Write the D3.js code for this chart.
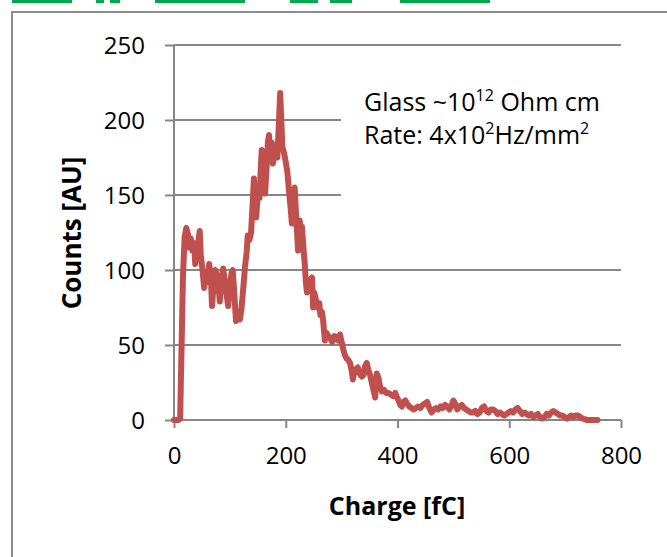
<!DOCTYPE html>
<html>
<head>
<meta charset="utf-8">
<script src="https://cdn.jsdelivr.net/npm/d3@7"></script>
<style>
  html, body { margin: 0; padding: 0; background: #fff; }
  svg { display: block; }
  text { font-family: "Open Sans", "Noto Sans", sans-serif; fill: #000; }
</style>
</head>
<body>
<svg id="chart" width="667" height="557"></svg>
<script>
// ---- data ----
const charge = [0,4,8,11,16,19,22,25,27,30,33,36,38,41,44,46,48,51,54,57,60,63,66,68,71,74,77,80,82,85,88,91,94,97,100,103,105,108,111,114,118,121,124,127,130,132,135,138,141,143,145,147,150,153,155,157,160,163,166,168,170,172,175,177,180,182,185,188,190,192,194,197,200,203,206,209,211,214,216,218,220,222,225,227,229,231,234,236,238,241,244,247,249,251,254,257,260,262,265,267,270,273,276,279,283,287,290,294,297,300,303,306,309,312,315,318,320,323,326,329,332,336,339,342,345,348,351,354,357,360,363,366,369,372,376,380,384,388,392,396,399,402,405,408,411,414,417,421,425,429,433,437,441,445,449,453,457,461,465,469,473,477,481,485,489,493,497,500,503,507,511,515,519,523,527,531,535,539,543,547,551,555,559,563,567,571,575,579,583,587,591,595,599,603,607,611,615,619,623,627,631,635,639,643,647,651,655,659,663,667,671,675,679,683,687,691,695,699,703,707,711,715,719,723,727,731,735,740,745,750,755,758];
const counts = [0,0,0,1,95,122,128,124,115,121,113,118,104,112,120,126,110,100,88,97,92,104,95,76,90,100,96,88,79,95,101,92,84,76,90,98,100,84,66,70,67,75,88,102,112,123,120,125,146,161,140,135,150,148,165,180,162,151,170,185,190,178,185,171,178,183,175,200,218,200,182,178,172,165,152,140,131,150,155,140,127,113,133,125,129,118,104,92,85,88,93,95,75,85,80,75,78,70,72,66,53,58,56,55,52,56,55,53,57,52,47,43,41,40,38,33,27,32,34,35,31,29,30,36,38,33,30,25,20,15,31,28,22,19,20,18,18,17,16,18,15,13,10,9,12,13,11,9,8,7,8,9,8,10,11,12,8,5,7,8,7,9,8,10,9,7,10,13,11,7,9,10,8,7,6,5,5,6,4,5,8,9,6,5,7,7,6,4,5,4,3,4,5,6,5,7,8,6,4,5,4,3,4,2,3,4,2,1,2,4,3,5,6,5,4,3,3,2,1,2,3,2,3,3,2,1,0.5,0,0,0,0,0];
const xTicks = [0, 200, 400, 600, 800];
const yTicks = [0, 50, 100, 150, 200, 250];
const xTitle = "Charge [fC]";
const yTitle = "Counts [AU]";

// ---- layout ----
const svg = d3.select("#chart");
const pLeft = 174, pRight = 621, pTop = 45, pBottom = 420;
const x = d3.scaleLinear().domain([0, 800]).range([pLeft, pRight]);
const y = d3.scaleLinear().domain([0, 250]).range([pBottom, pTop]);
const gridColor = "#868686";

// top cut-off green title fragments
const greenSegs = [[12,72],[96,104],[110,120],[155,245],[290,318],[330,352],[400,490]];
svg.selectAll("rect.green").data(greenSegs).enter().append("rect")
  .attr("x", d => d[0]).attr("y", 0).attr("width", d => d[1]-d[0]).attr("height", 3)
  .attr("fill", "#00a650");

// outer frame
svg.append("path").attr("d", "M12,557 L12,12 L667,12")
  .attr("fill", "none").attr("stroke", "#8c8c8c").attr("stroke-width", 2);

// horizontal gridlines + y ticks
const yAxis = d3.axisLeft(y).tickValues(yTicks).tickSize(9).tickPadding(20).tickFormat(d3.format("d"));
const gy = svg.append("g").attr("transform", `translate(${pLeft},0)`).call(yAxis);
gy.select(".domain").remove();
gy.selectAll(".tick line").attr("stroke", gridColor).attr("stroke-width", 2);
gy.selectAll(".tick text").attr("font-size", 24).attr("fill", "#000").attr("dy", "0.35em");
svg.append("g").selectAll("line").data(yTicks.filter(v => v > 0)).enter().append("line")
  .attr("x1", pLeft).attr("x2", pRight).attr("y1", d => y(d)).attr("y2", d => y(d))
  .attr("stroke", gridColor).attr("stroke-width", 2);

// white text box covering gridlines
svg.append("rect").attr("x", 341).attr("y", 70).attr("width", 300).attr("height", 140).attr("fill", "#fff");

// y axis line
svg.append("line").attr("x1", pLeft).attr("x2", pLeft).attr("y1", pTop).attr("y2", pBottom)
  .attr("stroke", gridColor).attr("stroke-width", 2);

// x axis
const xAxis = d3.axisBottom(x).tickValues(xTicks).tickSize(8).tickPadding(19).tickFormat(d3.format("d"));
const gx = svg.append("g").attr("transform", `translate(0,${pBottom})`).call(xAxis);
gx.select(".domain").attr("stroke", gridColor).attr("stroke-width", 2).attr("d", `M${pLeft},0H${pRight}`);
gx.selectAll(".tick line").attr("stroke", gridColor).attr("stroke-width", 2);
gx.selectAll(".tick text").attr("font-size", 24).attr("fill", "#000");

// data line
const line = d3.line().x((d, i) => x(charge[i])).y(d => y(d));
svg.append("path").datum(counts).attr("d", line)
  .attr("fill", "none").attr("stroke", "#C0504D").attr("stroke-width", 6)
  .attr("stroke-linejoin", "round").attr("stroke-linecap", "round");

// axis titles
svg.append("text").attr("x", 397).attr("y", 515).attr("text-anchor", "middle")
  .attr("font-size", 25).attr("font-weight", "bold").text(xTitle);
svg.append("text").attr("transform", "translate(81,233) rotate(-90)").attr("text-anchor", "middle")
  .attr("font-size", 26).attr("font-weight", "bold").text(yTitle);

// annotation
const t1 = svg.append("text").attr("x", 364).attr("y", 111).attr("font-size", 25);
t1.append("tspan").text("Glass ~10");
t1.append("tspan").attr("font-size", 16).attr("dy", -10).text("12");
t1.append("tspan").attr("dy", 10).text(" Ohm cm");
const t2 = svg.append("text").attr("x", 364).attr("y", 144).attr("font-size", 25);
t2.append("tspan").text("Rate: 4x10");
t2.append("tspan").attr("font-size", 16).attr("dy", -10).text("2");
t2.append("tspan").attr("dy", 10).text("Hz/mm");
t2.append("tspan").attr("font-size", 16).attr("dy", -10).text("2");
</script>
</body>
</html>
